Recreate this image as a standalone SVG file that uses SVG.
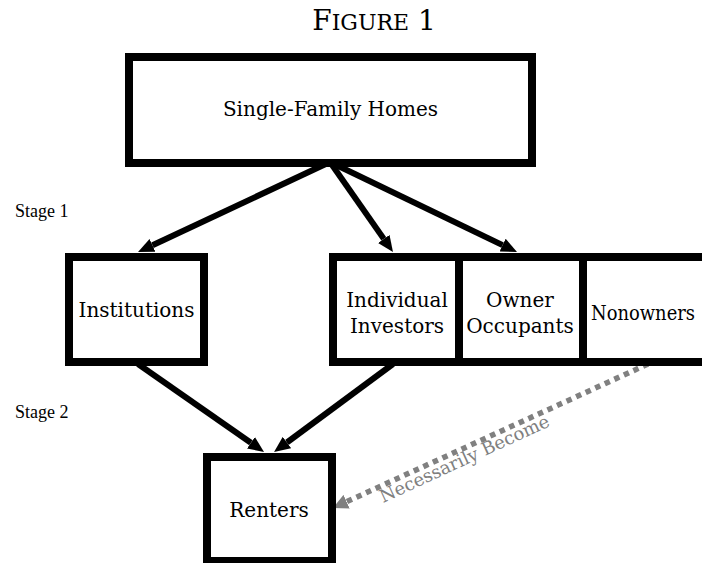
<svg xmlns="http://www.w3.org/2000/svg" width="702" height="563" viewBox="0 0 702 563">
  <style>
    .box { fill: #fff; stroke: #000; stroke-width: 8; }
    .lbl { font-family: "DejaVu Serif", "Liberation Serif", serif; font-size: 20px; fill: #000; text-anchor: middle; }
    .stage { font-family: "Liberation Serif", "DejaVu Serif", serif; font-size: 18px; fill: #000; }
    .edge { stroke: #000; stroke-width: 6; fill: none; }
    .dash { stroke: #808080; stroke-width: 5.5; stroke-dasharray: 5.5 5; fill: none; }
    .elbl { font-family: "DejaVu Serif", "Liberation Serif", serif; font-size: 18px; fill: #808080; }
  </style>
  <defs>
    <marker id="ah" viewBox="0 -8 17 16" markerWidth="17" markerHeight="16" refX="0" refY="0" orient="auto" markerUnits="userSpaceOnUse">
      <path d="M0,-7 L16,0 L0,7 z" fill="#000"/>
    </marker>
    <marker id="ahg" viewBox="0 -8 17 16" markerWidth="17" markerHeight="16" refX="0" refY="0" orient="auto" markerUnits="userSpaceOnUse">
      <path d="M0,-7.5 L15,0 L0,7.5 z" fill="#808080"/>
    </marker>
  </defs>
  <rect width="702" height="563" fill="#fff"/>

  <text x="374" y="30" font-family="DejaVu Serif, Liberation Serif, serif" text-anchor="middle" fill="#000"><tspan font-size="28">F</tspan><tspan font-size="22">IGURE</tspan><tspan font-size="28"> 1</tspan></text>

  <text class="stage" x="15" y="217">Stage 1</text>
  <text class="stage" x="15" y="418">Stage 2</text>

  <g id="connectors">
    <line class="edge" x1="330" y1="162" x2="152.5" y2="245.3" marker-end="url(#ah)"/>
    <line class="edge" x1="330" y1="162" x2="383.8" y2="238.9" marker-end="url(#ah)"/>
    <line class="edge" x1="330" y1="162" x2="502.6" y2="245.1" marker-end="url(#ah)"/>
    <line class="edge" x1="138" y1="364" x2="250.9" y2="442.8" marker-end="url(#ah)"/>
    <line class="edge" x1="393" y1="364" x2="286.9" y2="442.5" marker-end="url(#ah)"/>
    <line class="dash" x1="648" y1="364" x2="346.6" y2="501.7" marker-end="url(#ahg)"/>
    <text class="elbl" transform="translate(383,503) rotate(-24.7)">Necessarily Become</text>
  </g>

  <g id="homes">
    <rect class="box" x="129" y="57" width="403" height="106"/>
    <text class="lbl" x="330.5" y="116">Single-Family Homes</text>
  </g>
  <g id="institutions">
    <rect class="box" x="69" y="257" width="135" height="105"/>
    <text class="lbl" x="136.5" y="317">Institutions</text>
  </g>
  <g id="individual">
    <rect class="box" x="333" y="257" width="126" height="105"/>
    <text class="lbl" x="397" y="307">Individual</text>
    <text class="lbl" x="397" y="333">Investors</text>
  </g>
  <g id="owner">
    <rect class="box" x="459" y="257" width="124" height="105"/>
    <text class="lbl" x="520" y="307">Owner</text>
    <text class="lbl" x="520" y="333">Occupants</text>
  </g>
  <g id="nonowners">
    <path class="box" d="M702,257 H583 V362 H702"/>
    <text class="lbl" x="643" y="320" textLength="104" lengthAdjust="spacingAndGlyphs">Nonowners</text>
  </g>
  <g id="renters">
    <rect class="box" x="207" y="457" width="125" height="104"/>
    <text class="lbl" x="269" y="517">Renters</text>
  </g>
</svg>
